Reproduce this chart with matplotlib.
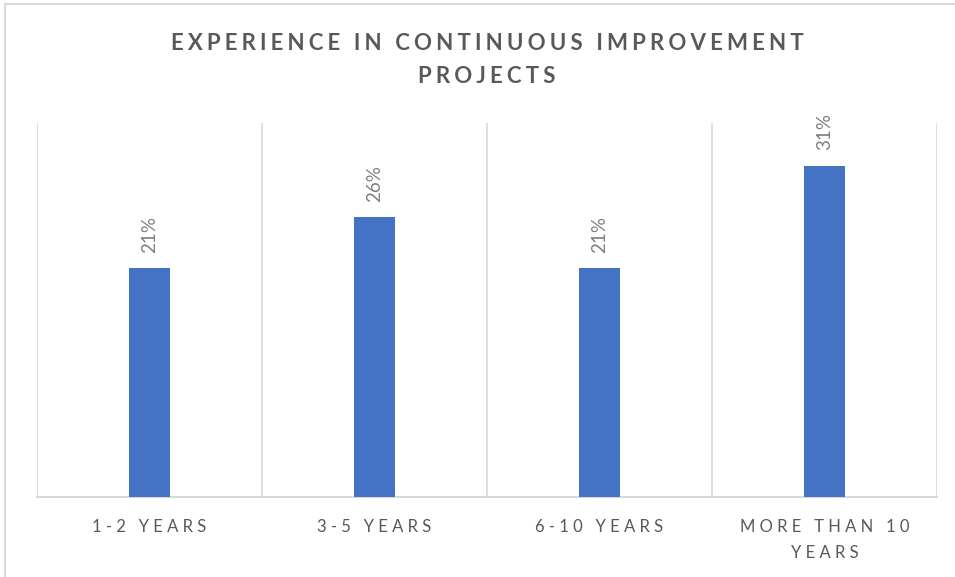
import matplotlib
matplotlib.use("Agg")
import matplotlib.pyplot as plt
from matplotlib.patches import Rectangle

categories = ["1-2 YEARS", "3-5 YEARS", "6-10 YEARS", "MORE THAN 10\nYEARS"]
values = [21.4, 26.2, 21.4, 31.0]
value_labels = ["21%", "26%", "21%", "31%"]
title = "EXPERIENCE IN CONTINUOUS IMPROVEMENT\nPROJECTS"

BAR = "#4472C4"
GRID = "#D9D9D9"
TXT = "#595959"
LBL = "#7F7F7F"

def spaced(s, sep="\u2009"):
    return "\n".join(sep.join(list(line)) for line in s.split("\n"))

plt.rcParams['font.family'] = ['Lato', 'DejaVu Sans']

W, H = 955, 577
fig = plt.figure(figsize=(W / 100, H / 100), dpi=100)
ax = fig.add_axes([37 / W, 1 - 497 / H, 900 / W, 374 / H])

x = list(range(len(categories)))
bars = ax.bar(x, values, width=0.18, color=BAR, zorder=3)
ax.set_xlim(-0.5, len(categories) - 0.5)
ax.set_ylim(0, 35)

for b, lab in zip(bars, value_labels):
    ax.annotate(lab, (b.get_x() + b.get_width() / 2, b.get_height()),
                xytext=(0, 11), textcoords="offset points",
                rotation=90, ha="center", va="bottom",
                fontsize=13.5, color=LBL)

for xb in [i - 0.5 for i in range(len(categories) + 1)]:
    ax.axvline(xb, color=GRID, lw=1.2, zorder=1)

for s in ["top", "left", "right"]:
    ax.spines[s].set_visible(False)
ax.spines["bottom"].set_color(GRID)
ax.spines["bottom"].set_linewidth(1.5)
ax.set_yticks([])
ax.set_xticks(x)
ax.set_xticklabels([spaced(c, "\u2009\u2009") for c in categories], fontsize=12,
                   color=TXT, linespacing=1.75)
ax.tick_params(axis="x", length=0, pad=16)

fig.text(487 / W, 1 - 60 / H, spaced(title, "\u2009\u200a"), ha="center",
         va="center", fontsize=16, fontweight="bold", color=TXT,
         linespacing=1.65)

fig.patches.append(Rectangle((5 / W, -0.1), 1.2, 1 - 4 / H + 0.1,
                             transform=fig.transFigure, fill=False,
                             edgecolor=GRID, lw=1.5))

fig.savefig("out.png", dpi=100)
